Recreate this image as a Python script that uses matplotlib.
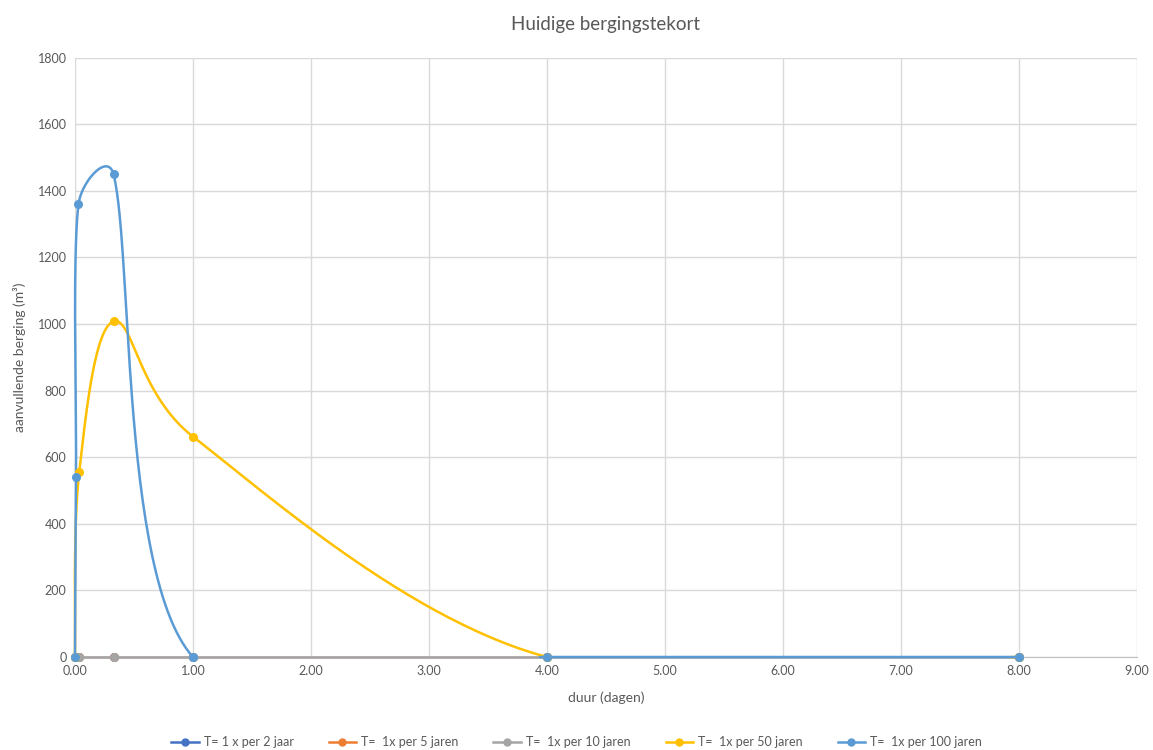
import numpy as np
import matplotlib
matplotlib.use("Agg")
import matplotlib.pyplot as plt
from matplotlib.lines import Line2D

plt.rcParams['font.family'] = ['Lato', 'DejaVu Sans']

TITLE = "Huidige bergingstekort"
X_LABEL = "duur (dagen)"
Y_LABEL = "aanvullende berging (m³)"

# series: duur (dagen) -> aanvullende berging (m3)
LABELS = ["T= 1 x per 2 jaar", "T=  1x per 5 jaren", "T=  1x per 10 jaren",
          "T=  1x per 50 jaren", "T=  1x per 100 jaren"]
COLORS = ["#4472C4", "#ED7D31", "#A5A5A5", "#FFC000", "#5B9BD5"]

x_2 = [0, 0.036, 0.327, 1, 4, 8]
y_2 = [0, 0, 0, 0, 0, 0]
x_5 = [0, 0.036, 0.327, 1, 4, 8]
y_5 = [0, 0, 0, 0, 0, 0]
x_10 = [0, 0.036, 0.327, 1, 4, 8]
y_10 = [0, 0, 0, 0, 0, 0]
x_50 = [0, 0.036, 0.327, 1, 4, 8]
y_50 = [0, 555, 1008, 662, 0, 0]
x_100 = [0, 0.009, 0.03, 0.327, 1, 4, 8]
y_100 = [0, 540, 1360, 1450, 0, 0, 0]

SERIES = [(x_2, y_2), (x_5, y_5), (x_10, y_10), (x_50, y_50), (x_100, y_100)]

XTICKS = np.arange(0, 9.01, 1)
YTICKS = np.arange(0, 1801, 200)
GRID = "#D9D9D9"
TXT = "#595959"


def excel_smooth(ax, xs, ys, n=60):
    """Excel-like smoothed line: cubic Bezier per segment, computed in screen space."""
    pts = ax.transData.transform(np.column_stack([xs, ys]))
    m = len(pts)
    out = []
    for i in range(m - 1):
        p0 = pts[max(i - 1, 0)]
        p1 = pts[i]
        p2 = pts[i + 1]
        p3 = pts[min(i + 2, m - 1)]
        d12 = np.linalg.norm(p2 - p1)
        t1 = p2 - p0
        d02 = np.linalg.norm(t1)
        c1 = p1 + (t1 / d02 * min(d02 / 6, d12 / 2) if d02 > 0 else 0)
        t2 = p3 - p1
        d13 = np.linalg.norm(t2)
        c2 = p2 - (t2 / d13 * min(d13 / 6, d12 / 2) if d13 > 0 else 0)
        t = np.linspace(0, 1, n)[:, None]
        seg = ((1 - t) ** 3 * p1 + 3 * (1 - t) ** 2 * t * c1
               + 3 * (1 - t) * t ** 2 * c2 + t ** 3 * p2)
        out.append(seg if i == 0 else seg[1:])
    curve = ax.transData.inverted().transform(np.vstack(out))
    cx, cy = curve[:, 0], curve[:, 1].copy()
    cy[cy < -0.5] = np.nan  # plot area clips at y = 0
    return cx, cy


fig = plt.figure(figsize=(11.53, 7.5), dpi=100)
ax = fig.add_axes([0.065, 0.124, 0.921, 0.799])
ax.set_xlim(0, 9)
ax.set_ylim(0, 1800)

for k, ((xs, ys), c) in enumerate(zip(SERIES, COLORS)):
    cx, cy = excel_smooth(ax, xs, ys)
    # lower zero-series sit under the grey one; keep them thinner so no fringe shows
    lw = 1.0 if k < 2 else 1.8
    ax.plot(cx, cy, color=c, lw=lw, zorder=3, clip_on=False, solid_capstyle="round")
    ax.plot(xs, ys, "o", color=c, ms=5.5, zorder=4, clip_on=False)

ax.set_xticks(XTICKS)
ax.set_xticklabels([f"{v:.2f}" for v in XTICKS])
ax.set_yticks(YTICKS)
ax.set_yticklabels([f"{v:d}" for v in YTICKS])
ax.grid(True, color=GRID, lw=1)
ax.set_axisbelow(True)
for s in ["top", "right", "left"]:
    ax.spines[s].set_visible(False)
ax.spines["bottom"].set_color("#BFBFBF")
ax.tick_params(length=0, labelsize=9, colors=TXT, pad=6)

ax.set_title(TITLE, fontsize=13.5, color=TXT, pad=20)
ax.set_xlabel(X_LABEL, fontsize=10, color=TXT, labelpad=10)
ax.set_ylabel(Y_LABEL, fontsize=10, color=TXT, labelpad=8)

handles = [Line2D([], [], color=c, lw=1.8, marker="o", ms=5) for c in COLORS]
fig.legend(handles, LABELS, loc="center", bbox_to_anchor=(0.5, 0.01), ncol=5,
           frameon=False, fontsize=9, labelcolor=TXT, handlelength=2.2,
           columnspacing=2.8, handletextpad=0.4)

fig.savefig("out.png", dpi=100)
